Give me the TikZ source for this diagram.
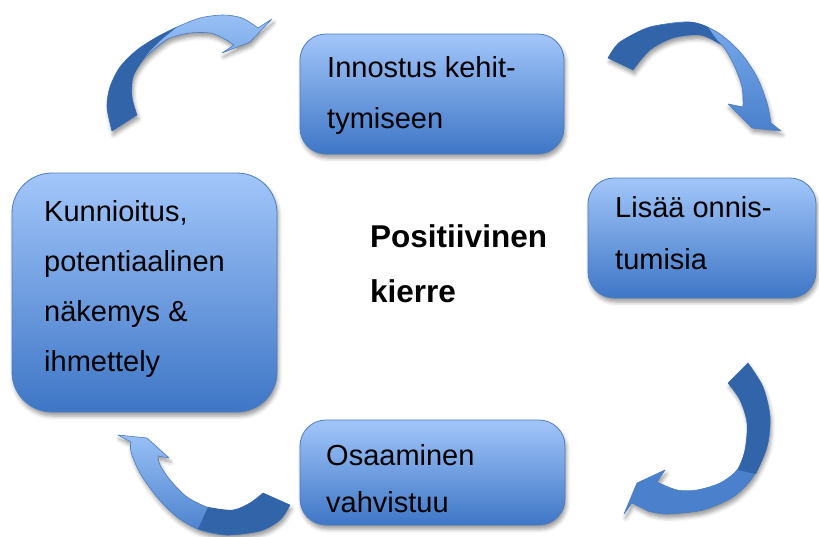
\documentclass[tikz,border=0pt]{standalone}
\usepackage{fontspec}
\setmainfont{Liberation Sans}
\usetikzlibrary{shadows.blur}

\definecolor{boxtop}{RGB}{162,198,250}
\definecolor{boxbot}{RGB}{62,118,198}
\definecolor{boxline}{RGB}{78,125,192}
\definecolor{arrdark}{RGB}{49,100,168}
\definecolor{arrmid}{RGB}{74,128,204}
\definecolor{arrlight}{RGB}{152,192,246}
\definecolor{arrsoft}{RGB}{120,170,236}

\tikzset{
  softshadow/.style={blur shadow={shadow xshift=1.5pt, shadow yshift=-4pt,
      shadow blur radius=4pt, shadow opacity=40}},
  card/.style={top color=boxtop, bottom color=boxbot, draw=boxline,
      line width=0.8pt, softshadow},
  % multi-line texts are placed by the baseline of their last line
  boxtext/.style={anchor=base west, align=left, inner sep=0pt},
  ribbon/.style={draw=boxline, line width=0.6pt, line join=round},
  darkpart/.style={fill=arrdark, line join=round},
}

\begin{document}
\begin{tikzpicture}[x=1pt, y=-1pt]
\useasboundingbox (0,0) rectangle (819,536);

% ---- cycle arrows ----
% top left
\path[ribbon, top color=arrlight, bottom color=arrmid, softshadow] (112,131)
  -- plot[smooth] coordinates {(112,131) (107,107) (110,87) (120,67) (137,50) (157,37) (177,27) (200,18) (223,15) (242,18) (258,28)}
  -- (272,19) -- (250,42) -- (222,53) -- (234,45)
  -- plot[smooth] coordinates {(234,45) (223,38) (210,33) (190,33) (170,38) (157,47) (143,60) (133,77) (132,97) (137,115)}
  -- cycle;
\path[darkpart] (112,131)
  -- plot[smooth] coordinates {(112,131) (107,107) (110,87) (120,67) (137,50) (157,37) (177,27)}
  -- plot[smooth] coordinates {(177,27) (161,40) (149,52) (143,60)}
  -- plot[smooth] coordinates {(143,60) (133,77) (132,97) (137,115)}
  -- cycle;

% top right
\path[ribbon, top color=arrsoft, bottom color=arrmid, softshadow] (608,58)
  -- plot[smooth] coordinates {(608,58) (615,47) (623,40) (650,27) (690,22) (717,32) (740,52) (757,77) (767,103) (771,123)}
  -- (781,131) -- (752,128) -- (728,104) -- (743,107)
  -- plot[smooth] coordinates {(743,107) (742,87) (733,63) (720,43) (700,35) (673,38) (650,50) (633,70)}
  -- cycle;
\path[darkpart] (608,58)
  -- plot[smooth] coordinates {(608,58) (615,47) (623,40) (650,27) (690,22) (708,27)}
  -- plot[smooth] coordinates {(708,27) (714,36) (721,45)}
  -- plot[smooth] coordinates {(721,45) (700,35) (673,38) (650,50) (633,70)}
  -- cycle;

% bottom right
\path[ribbon, fill=arrmid, softshadow] (748,363)
  -- plot[smooth] coordinates {(748,363) (763,387) (770,417) (767,447) (753,477) (733,497) (703,510) (667,514) (648,511)}
  -- (632,503) -- (624,514) -- (637,483) -- (665,470) -- (657,482)
  -- plot[smooth] coordinates {(657,482) (677,490) (697,490) (720,483) (737,470) (745,450) (747,423) (740,400) (728,383)}
  -- cycle;
\path[darkpart] (748,363)
  -- plot[smooth] coordinates {(748,363) (763,387) (770,417) (767,447) (756,474)}
  -- (738,470)
  -- plot[smooth] coordinates {(738,470) (745,450) (747,423) (740,400) (728,383)}
  -- cycle;

% bottom left
\path[ribbon, top color=arrlight, bottom color=arrmid, softshadow] (290,505)
  -- plot[smooth] coordinates {(290,505) (280,520) (260,531) (227,535) (200,530) (177,517) (157,497) (140,473) (131,452) (131,442)}
  -- (118,435) -- (147,438) -- (169,458) -- (158,456)
  -- plot[smooth] coordinates {(158,456) (160,465) (170,480) (187,497) (210,508) (233,510) (250,503) (263,493)}
  -- cycle;
\path[darkpart] (290,505)
  -- plot[smooth] coordinates {(290,505) (280,520) (260,531) (227,535) (198,529)}
  -- (208,507)
  -- plot[smooth] coordinates {(208,507) (233,510) (250,503) (263,493)}
  -- cycle;

% ---- boxes ----
\node[card, rounded corners=26pt, minimum width=264pt, minimum height=120pt] (innostus) at (432,94) {};
\node[card, rounded corners=40pt, minimum width=265pt, minimum height=239pt] (kunnioitus) at (144.5,292.5) {};
\node[card, rounded corners=26pt, minimum width=228pt, minimum height=120pt] (lisaa) at (702,238) {};
\node[card, rounded corners=26pt, minimum width=265pt, minimum height=105pt] (osaaminen) at (432.5,472.5) {};

% ---- texts ----
\node[boxtext, font=\fontsize{29}{51}\selectfont] (innostus-t) at (327,128) {Innostus kehit-\\tymiseen};
\node[boxtext, font=\fontsize{29}{50}\selectfont] (kunnioitus-t) at (44,371) {Kunnioitus,\\potentiaalinen\\näkemys \&\\ihmettely};
\node[boxtext, font=\fontsize{29}{52}\selectfont] (lisaa-t) at (615,269) {Lisää onnis-\\tumisia};
\node[boxtext, font=\fontsize{29}{47}\selectfont] (osaaminen-t) at (326,512) {Osaaminen\\vahvistuu};
\node[boxtext, font=\fontsize{31.5}{55}\selectfont\bfseries] (kierre) at (370,302) {Positiivinen\\kierre};
\end{tikzpicture}
\end{document}
